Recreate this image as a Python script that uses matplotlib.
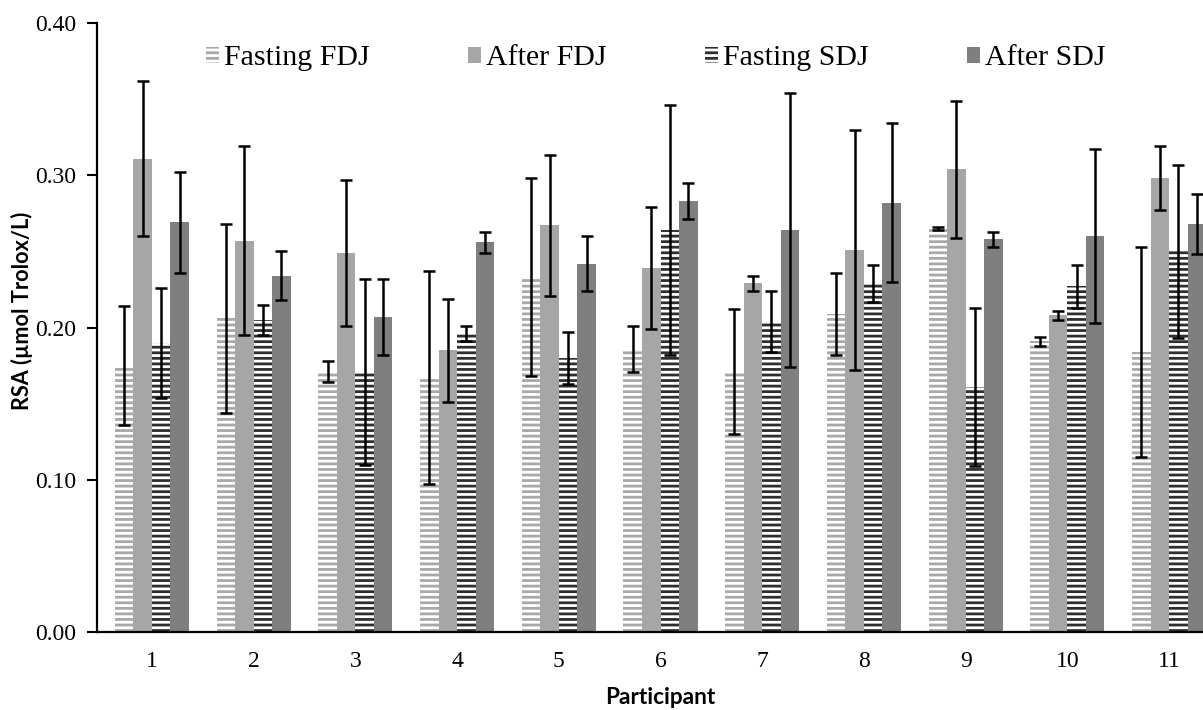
import numpy as np
import matplotlib.pyplot as plt

participants = ['1', '2', '3', '4', '5', '6', '7', '8', '9', '10', '11']
series_names = ['Fasting FDJ', 'After FDJ', 'Fasting SDJ', 'After SDJ']

fasting_fdj = [0.175, 0.206, 0.171, 0.167, 0.233, 0.186, 0.171, 0.209, 0.265, 0.191, 0.184]
fasting_fdj_err = [0.039, 0.062, 0.007, 0.070, 0.065, 0.015, 0.041, 0.027, 0.001, 0.003, 0.069]
after_fdj = [0.311, 0.257, 0.249, 0.185, 0.267, 0.239, 0.229, 0.251, 0.304, 0.208, 0.298]
after_fdj_err = [0.051, 0.062, 0.048, 0.034, 0.046, 0.040, 0.005, 0.079, 0.045, 0.003, 0.021]
fasting_sdj = [0.190, 0.205, 0.171, 0.196, 0.180, 0.264, 0.204, 0.229, 0.161, 0.227, 0.250]
fasting_sdj_err = [0.036, 0.010, 0.061, 0.005, 0.017, 0.082, 0.020, 0.012, 0.052, 0.014, 0.057]
after_sdj = [0.269, 0.234, 0.207, 0.256, 0.242, 0.283, 0.264, 0.282, 0.258, 0.260, 0.268]
after_sdj_err = [0.033, 0.016, 0.025, 0.007, 0.018, 0.012, 0.090, 0.052, 0.005, 0.057, 0.020]

values = [fasting_fdj, after_fdj, fasting_sdj, after_sdj]
errors = [fasting_fdj_err, after_fdj_err, fasting_sdj_err, after_sdj_err]

plt.rcParams['hatch.linewidth'] = 2.0
serif = ['Liberation Serif', 'DejaVu Serif']
sans = ['Lato', 'DejaVu Sans']

fig = plt.figure(figsize=(12.03, 7.10), dpi=100)
# axes runs past the right edge like in the original screenshot
ax = fig.add_axes([97 / 1203, 78 / 710, 1127 / 1203, 609 / 710])

x = np.arange(1, len(participants) + 1)
w = 0.182
styles = [
    dict(color='white', edgecolor='#a8a8a8', hatch='---', linewidth=0),
    dict(color='#a6a6a6', linewidth=0),
    dict(color='white', edgecolor='#2e2e2e', hatch='---', linewidth=0),
    dict(color='#7f7f7f', linewidth=0),
]

for i in range(4):
    pos = x + (i - 1.5) * w
    ax.bar(pos, values[i], w, label=series_names[i], **styles[i])
    ax.errorbar(pos, values[i], yerr=errors[i], fmt='none', ecolor='black',
                elinewidth=1.8, capsize=4.3, capthick=1.8)

ax.set_xlim(0.46, 11.54)
ax.set_ylim(0, 0.40)
ax.set_yticks([0, 0.1, 0.2, 0.3, 0.4])
ax.set_yticklabels(['0.00', '0.10', '0.20', '0.30', '0.40'], family=serif, fontsize=17)
ax.set_xticks(x)
ax.set_xticklabels(participants, family=serif, fontsize=17)
ax.tick_params(axis='x', length=0, pad=14)
ax.tick_params(axis='y', length=7, width=1.5, direction='out', pad=8)

for s in ['top', 'right']:
    ax.spines[s].set_visible(False)
for s in ['left', 'bottom']:
    ax.spines[s].set_linewidth(1.6)

fig.text(22 / 1203, 1 - 311 / 710, 'RSA (µmol Trolox/L)', family=sans, fontweight='bold',
         fontsize=15.6, rotation=90, ha='center', va='center')
fig.text(660 / 1203, 1 - 698 / 710, 'Participant', family=sans, fontweight='bold',
         fontsize=16.3, ha='center', va='center')

leg = ax.legend(ncol=4, loc='upper left', bbox_to_anchor=(86.5 / 1127, 1.0), frameon=False,
                prop={'family': serif, 'size': 21.5}, handlelength=0.45, handleheight=0.45,
                handletextpad=0.15, columnspacing=3.3, borderaxespad=0.35)

fig.savefig('out.png', dpi=100)
